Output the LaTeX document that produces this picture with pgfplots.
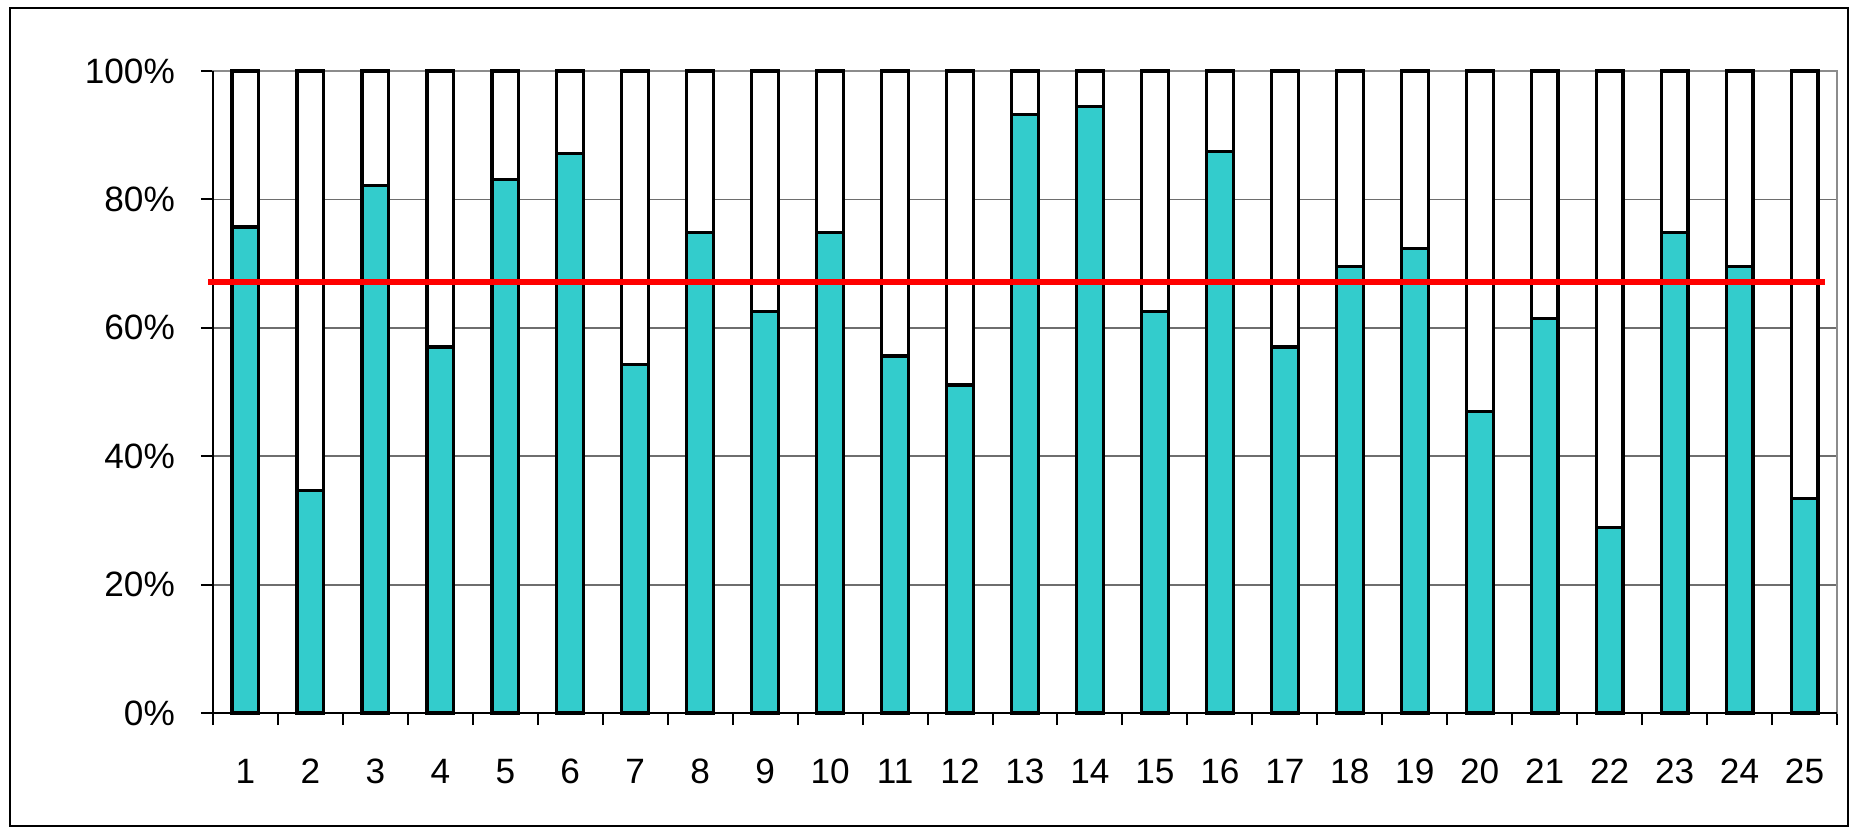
\documentclass[border=0pt]{standalone}
\usepackage{fontspec}
\setmainfont{Liberation Sans}
\usepackage{pgfplots}
\usepackage{pgfplotstable}
\pgfplotsset{compat=1.18}
\definecolor{barteal}{RGB}{51,204,204}
\definecolor{gridgray}{RGB}{110,110,110}

% share (%) per item; rest = 100 - share
\pgfplotstableread{
x  v     w
1  75.7  24.3
2  34.7  65.3
3  82.2  17.8
4  57.0  43.0
5  83.1  16.9
6  87.2  12.8
7  54.3  45.7
8  74.9  25.1
9  62.5  37.5
10 74.9  25.1
11 55.6  44.4
12 51.1  48.9
13 93.2  6.8
14 94.5  5.5
15 62.5  37.5
16 87.5  12.5
17 57.0  43.0
18 69.5  30.5
19 72.3  27.7
20 47.0  53.0
21 61.5  38.5
22 28.9  71.1
23 74.9  25.1
24 69.5  30.5
25 33.4  66.6
}\shares

\pgfplotsset{frame/.style={
    at={(0,0)}, anchor=south west,
    scale only axis,
    width=406pt, height=160.5pt,
    xmin=0.5, xmax=25.5,
    ymin=0, ymax=100,
    clip=false,
}}

\begin{document}
\begin{tikzpicture}
\path[use as bounding box] (-53.25pt,-29pt) rectangle (410.25pt,178.25pt);
\draw[black, line width=0.5pt] (-50.75pt,-28.25pt) rectangle (408.75pt,176.25pt);
\begin{axis}[
    frame,
    font=\fontsize{8.8}{11}\selectfont,
    /pgf/number format/assume math mode=true,
    ybar stacked,
    bar width=6.7pt,
    axis line style={draw=black!45, line width=0.5pt},
    xtick={1,...,25},
    minor xtick={0.5,1.5,...,25.5},
    major x tick style={draw=none},
    minor x tick style={black, line width=0.5pt},
    minor tick length=3pt,
    ytick={0,20,...,100},
    yticklabel={\pgfmathprintnumber{\tick}\%},
    major y tick style={black, line width=0.5pt},
    major tick length=3pt,
    tick align=outside,
    tick pos=left,
    ymajorgrids,
    grid style={gridgray, line width=0.45pt},
    xticklabel style={yshift=-5pt},
    yticklabel style={xshift=-3pt},
  ]
\addplot[fill=barteal, draw=black, line width=0.8pt] table[x=x, y=v] {\shares};
\addplot[fill=white, draw=black, line width=0.8pt] table[x=x, y=w] {\shares};
\draw[black, line width=0.6pt] (rel axis cs:0,1) -- (rel axis cs:0,0) -- (rel axis cs:1,0);
\end{axis}
% average line, drawn on a matching overlay axis
\begin{axis}[frame, hide axis]
\addplot[red, line width=1.5pt, no marks] coordinates {(0.43,67.1) (25.32,67.1)};
\end{axis}
\end{tikzpicture}
\end{document}
